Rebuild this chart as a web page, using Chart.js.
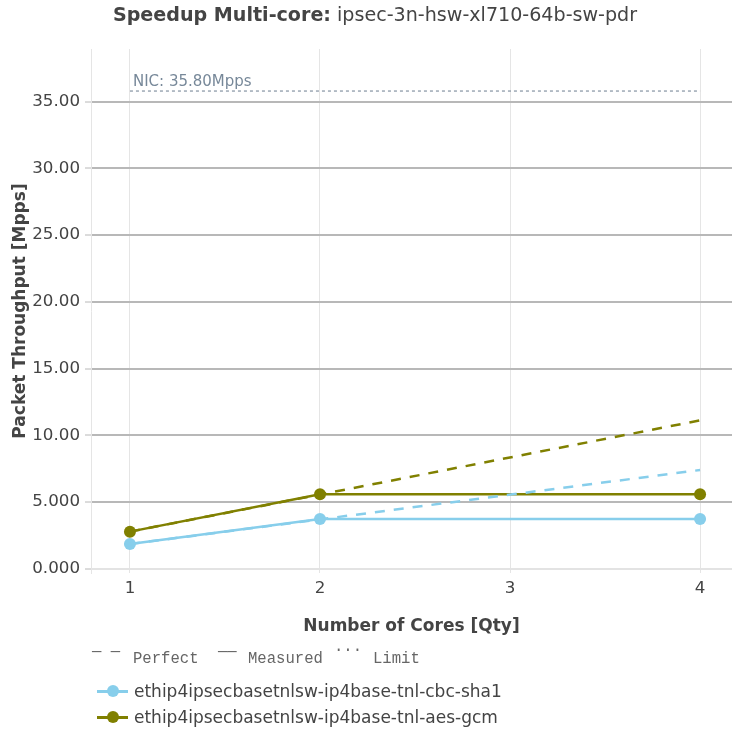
<!DOCTYPE html>
<html>
<head>
<meta charset="utf-8">
<script src="https://cdn.jsdelivr.net/npm/chart.js@4.4.0/dist/chart.umd.min.js"></script>
<style>
  body { margin: 0; background: #fff; }
  #wrap { position: relative; width: 732px; height: 733px; font-family: "DejaVu Sans", sans-serif; color: #444; }
  #chart { position: absolute; left: 0; top: 0; }
  #title { position: absolute; top: 3px; left: 0; width: 750px; text-align: center; font-size: 19.1px; white-space: nowrap; color: #444; }
  .mono { position: absolute; font-family: "Liberation Mono", monospace; font-size: 15.6px; line-height: 18px; color: #666; white-space: nowrap; }
  .item { position: absolute; left: 97px; height: 20px; font-size: 17px; line-height: 20px; white-space: nowrap; }
  .item .sw { position: absolute; left: 0; top: 9px; width: 31px; height: 2.5px; }
  .item .dot { position: absolute; left: 9.5px; top: 4px; width: 12px; height: 12px; border-radius: 50%; }
  .item .txt { position: absolute; left: 37px; top: 0; }
</style>
</head>
<body>
<div id="wrap">
  <canvas id="chart" width="732" height="733"></canvas>
  <div id="title"><b>Speedup Multi-core:</b> ipsec-3n-hsw-xl710-64b-sw-pdr</div>
  <div id="legend"></div>
</div>
<script>
// measured throughput per core count
const cores = [1, 2, 4];
const cbcMeasured = [1.85, 3.72, 3.72];
const aesMeasured = [2.78, 5.58, 5.58];

// perfect (linear) scaling from the 1-core value
const perfectCores = [1, 4];
const cbcPerfect = [1.85, 7.40];
const aesPerfect = [2.78, 11.12];

// NIC limit
const nicCores = [1, 4];
const nicLimit = [35.8, 35.8];

const seriesNames = ['ethip4ipsecbasetnlsw-ip4base-tnl-cbc-sha1', 'ethip4ipsecbasetnlsw-ip4base-tnl-aes-gcm'];
const seriesColors = ['#87ceeb', '#808000'];
const xTicks = [1, 2, 3, 4];
const yTicks = [0, 5, 10, 15, 20, 25, 30, 35];

function points(xs, ys) {
  return xs.map((x, i) => ({ x: x, y: ys[i] }));
}

const fontFamily = '"DejaVu Sans", sans-serif';

// draws the "NIC: xx Mpps" text above the limit line
const nicLabelPlugin = {
  id: 'nicLabel',
  afterDatasetsDraw(chart) {
    const ctx = chart.ctx;
    const x = chart.scales.x.getPixelForValue(nicCores[0]);
    const y = chart.scales.y.getPixelForValue(nicLimit[0]);
    ctx.save();
    ctx.font = '15px ' + fontFamily;
    ctx.fillStyle = '#778899';
    ctx.textAlign = 'left';
    ctx.textBaseline = 'alphabetic';
    ctx.fillText('NIC: ' + nicLimit[0].toFixed(2) + 'Mpps', x + 3, y - 5);
    ctx.restore();
  }
};

new Chart(document.getElementById('chart').getContext('2d'), {
  type: 'scatter',
  data: {
    datasets: [
      {
        label: 'NIC limit',
        data: points(nicCores, nicLimit),
        showLine: true,
        borderColor: '#6c7d8f',
        borderWidth: 1,
        borderDash: [3, 3],
        pointRadius: 0
      },
      {
        label: seriesNames[0] + ' perfect',
        data: points(perfectCores, cbcPerfect),
        showLine: true,
        borderColor: seriesColors[0],
        borderWidth: 2.5,
        borderDash: [10, 9],
        pointRadius: 0
      },
      {
        label: seriesNames[1] + ' perfect',
        data: points(perfectCores, aesPerfect),
        showLine: true,
        borderColor: seriesColors[1],
        borderWidth: 2.5,
        borderDash: [10, 9],
        pointRadius: 0
      },
      {
        label: seriesNames[0],
        data: points(cores, cbcMeasured),
        showLine: true,
        borderColor: seriesColors[0],
        backgroundColor: seriesColors[0],
        borderWidth: 2.5,
        pointRadius: 6,
        pointBorderWidth: 0
      },
      {
        label: seriesNames[1],
        data: points(cores, aesMeasured),
        showLine: true,
        borderColor: seriesColors[1],
        backgroundColor: seriesColors[1],
        borderWidth: 2.5,
        pointRadius: 6,
        pointBorderWidth: 0
      }
    ]
  },
  options: {
    responsive: false,
    devicePixelRatio: 1,
    animation: false,
    layout: { autoPadding: false, padding: { top: 49, bottom: 96, left: 0, right: 0 } },
    plugins: {
      legend: { display: false },
      tooltip: { enabled: false }
    },
    scales: {
      x: {
        type: 'linear',
        min: 0.795,
        max: 4.168,
        afterBuildTicks: s => { s.ticks = xTicks.map(v => ({ value: v })); },
        afterFit: s => { s.height = 64; },
        ticks: {
          font: { family: fontFamily, size: 16.7 },
          color: '#444',
          padding: 6,
          maxRotation: 0,
          autoSkip: false
        },
        grid: { color: '#e5e5e5', lineWidth: 1, drawTicks: false },
        border: { display: false },
        title: {
          display: true,
          text: 'Number of Cores [Qty]',
          font: { family: fontFamily, size: 17, weight: 'bold' },
          color: '#444',
          padding: { top: 0, bottom: 0 }
        }
      },
      y: {
        min: -0.32,
        max: 38.95,
        afterBuildTicks: s => { s.ticks = yTicks.map(v => ({ value: v })); },
        afterFit: s => { s.width = 91; },
        ticks: {
          font: { family: fontFamily, size: 16.7 },
          color: '#444',
          padding: 5,
          callback: v => v.toPrecision(4)
        },
        grid: {
          color: c => (c.tick && c.tick.value === 0) ? '#e3e3e3' : '#b8b8b8',
          lineWidth: 2,
          tickLength: 6,
          tickColor: '#b8b8b8',
          tickWidth: 1
        },
        border: { display: true, color: '#e5e5e5', width: 1 },
        title: {
          display: true,
          text: 'Packet Throughput [Mpps]',
          font: { family: fontFamily, size: 17, weight: 'bold' },
          color: '#444',
          padding: { top: 10, bottom: 0 }
        }
      }
    }
  },
  plugins: [nicLabelPlugin]
});

// legend below the plot
const legend = document.getElementById('legend');
const styleParts = [
  { text: '— —', left: 92, top: 643 },
  { text: 'Perfect', left: 133, top: 650 },
  { text: '——', left: 218, top: 643 },
  { text: 'Measured', left: 248, top: 650 },
  { text: '...', left: 334, top: 638 },
  { text: 'Limit', left: 373, top: 650 }
];
styleParts.forEach(p => {
  const el = document.createElement('div');
  el.className = 'mono';
  el.style.left = p.left + 'px';
  el.style.top = p.top + 'px';
  el.textContent = p.text;
  legend.appendChild(el);
});
const itemTops = [681, 707];
seriesNames.forEach((name, i) => {
  const item = document.createElement('div');
  item.className = 'item';
  item.style.top = itemTops[i] + 'px';
  item.innerHTML = '<div class="sw"></div><div class="dot"></div><div class="txt"></div>';
  item.querySelector('.sw').style.background = seriesColors[i];
  item.querySelector('.dot').style.background = seriesColors[i];
  item.querySelector('.txt').textContent = name;
  legend.appendChild(item);
});
</script>
</body>
</html>
